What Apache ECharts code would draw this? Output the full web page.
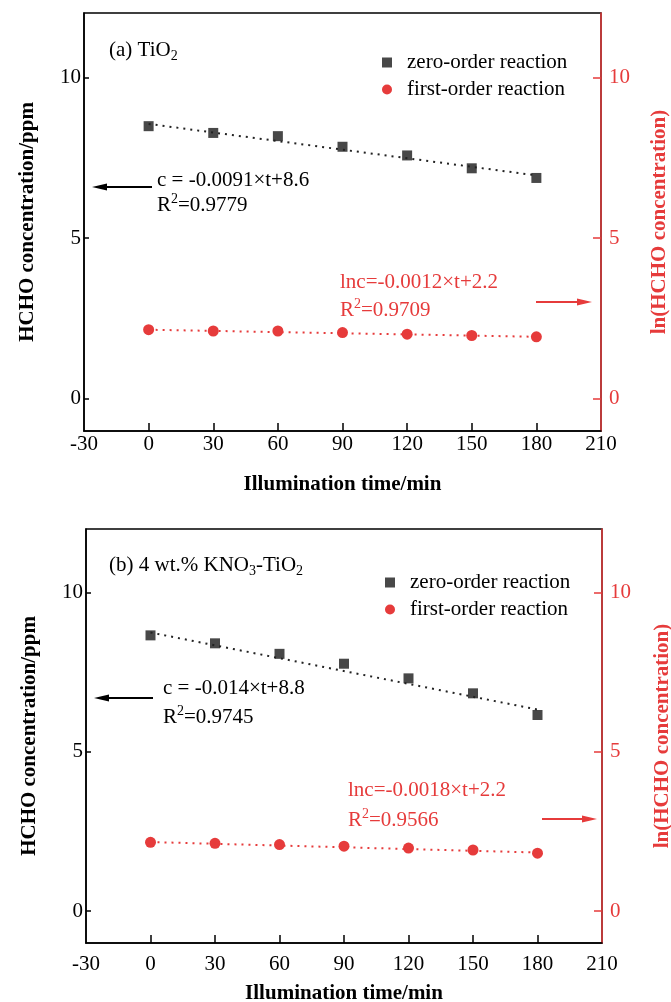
<!DOCTYPE html>
<html>
<head>
<meta charset="utf-8">
<script src="https://cdn.jsdelivr.net/npm/echarts@6/dist/echarts.min.js"></script>
<style>
  html, body { margin: 0; padding: 0; background: #fff; }
  #chart { width: 671px; height: 1002px; }
</style>
</head>
<body>
<div id="chart"></div>
<script>
// illumination time, min
const times = [0, 30, 60, 90, 120, 150, 180]
// panel (a) TiO2
const zeroA = [8.48, 8.27, 8.17, 7.84, 7.57, 7.17, 6.87]
const firstA = [2.15, 2.11, 2.11, 2.06, 2.01, 1.97, 1.93]
// panel (b) 4 wt.% KNO3-TiO2
const zeroB = [8.66, 8.41, 8.08, 7.77, 7.31, 6.84, 6.16]
const firstB = [2.16, 2.13, 2.09, 2.04, 1.98, 1.92, 1.82]
// fitted lines, read at the ends
const fitTimes = [0, 180]
const fitZeroA = [8.55, 6.95]
const fitFirstA = [2.15, 1.93]
const fitZeroB = [8.75, 6.33]
const fitFirstB = [2.17, 1.84]
const yTicks = [0, 5, 10]
const xTicks = [0, 30, 60, 90, 120, 150, 180]

const serif = 'Liberation Serif'
const red = '#e63b3b'
const gray = '#484848'

const pairs = (xs, ys) => xs.map((x, i) => [x, ys[i]])

const grids = [
  { left: 84, top: 13, width: 517, height: 418 },
  { left: 86, top: 529, width: 516, height: 414 }
]

function xAxis(i, labelMargin, nameGap) {
  return {
    type: 'value', gridIndex: i, min: -30, max: 210, interval: 30,
    name: 'Illumination time/min', nameLocation: 'middle', nameGap,
    nameTextStyle: { fontFamily: serif, fontSize: 21, fontWeight: 'bold', color: '#000' },
    axisLine: { onZero: false, lineStyle: { color: '#000', width: 1.5 } },
    axisTick: { inside: true, length: 8, customValues: xTicks, lineStyle: { color: '#000', width: 1.5 } },
    axisLabel: { margin: labelMargin, fontFamily: serif, fontSize: 21, color: '#000' },
    splitLine: { show: false }
  }
}

function yAxis(i, side, nameGap) {
  const c = side === 'left' ? '#000' : red
  return {
    type: 'value', gridIndex: i, position: side, min: -1, max: 12,
    name: side === 'left' ? 'HCHO concentration/ppm' : 'ln(HCHO concentration)',
    nameLocation: 'middle', nameGap, nameRotate: 90,
    nameTextStyle: { fontFamily: serif, fontSize: 21, fontWeight: 'bold', color: c },
    axisLine: { show: true, onZero: false, lineStyle: { color: c, width: 1.5 } },
    axisTick: { show: true, inside: true, length: side === 'left' ? 5 : 8, customValues: yTicks, lineStyle: { color: c, width: 1.5 } },
    axisLabel: { margin: side === 'left' ? 3 : 8, customValues: yTicks, fontFamily: serif, fontSize: 21, color: c },
    splitLine: { show: false }
  }
}

function panelSeries(i, zero, first, fitZero, fitFirst) {
  return [
    { type: 'line', name: 'fit-zero-' + i, xAxisIndex: i, yAxisIndex: 2 * i, data: pairs(fitTimes, fitZero),
      symbol: 'none', silent: true, lineStyle: { color: '#222', width: 2, type: [2, 5] } },
    { type: 'line', name: 'fit-first-' + i, xAxisIndex: i, yAxisIndex: 2 * i + 1, data: pairs(fitTimes, fitFirst),
      symbol: 'none', silent: true, lineStyle: { color: red, width: 2, type: [2, 5] } },
    { type: 'scatter', name: 'zero-order reaction', xAxisIndex: i, yAxisIndex: 2 * i, data: pairs(times, zero),
      symbol: 'rect', symbolSize: 10, itemStyle: { color: gray, opacity: 1 } },
    { type: 'scatter', name: 'first-order reaction', xAxisIndex: i, yAxisIndex: 2 * i + 1, data: pairs(times, first),
      symbol: 'circle', symbolSize: 11, itemStyle: { color: red, opacity: 1 } }
  ]
}

function legend(left, top) {
  return {
    left, top, orient: 'vertical', itemGap: 6, itemWidth: 10, itemHeight: 10,
    data: [{ name: 'zero-order reaction', icon: 'rect' }, { name: 'first-order reaction', icon: 'circle' }],
    itemStyle: { opacity: 1 },
    textStyle: { fontFamily: serif, fontSize: 21, color: '#000', padding: [0, 0, 0, 10] }
  }
}

function rich(color) {
  return {
    n: { fontSize: 21, fontFamily: serif, lineHeight: 26, fill: color },
    sub: { fontSize: 14, fontFamily: serif, lineHeight: 14, verticalAlign: 'bottom', fill: color },
    sup: { fontSize: 14, fontFamily: serif, lineHeight: 14, verticalAlign: 'top', fill: color }
  }
}

function txt(x, y, text, color) {
  return {
    type: 'text', x, y, silent: true,
    style: { text, fill: color, fontFamily: serif, fontSize: 21, align: 'left', verticalAlign: 'middle', rich: rich(color) }
  }
}

function arrow(x1, x2, y, color) {
  const d = Math.sign(x2 - x1)
  return {
    type: 'group', silent: true,
    children: [
      { type: 'line', shape: { x1, y1: y, x2: x2 - d * 10, y2: y }, style: { stroke: color, lineWidth: 2 } },
      { type: 'polygon', shape: { points: [[x2, y], [x2 - d * 15, y - 3.5], [x2 - d * 15, y + 3.5]] }, style: { fill: color } }
    ]
  }
}

const option = {
  animation: false,
  backgroundColor: '#fff',
  grid: grids.map(g => Object.assign({ show: true, borderColor: '#000', borderWidth: 1.5, containLabel: false, outerBoundsMode: 'none' }, g)),
  xAxis: [xAxis(0, 3, 43), xAxis(1, 11, 40)],
  yAxis: [yAxis(0, 'left', 46), yAxis(0, 'right', 48), yAxis(1, 'left', 46), yAxis(1, 'right', 50)],
  legend: [legend(377, 47), legend(380, 567)],
  series: [
    ...panelSeries(0, zeroA, firstA, fitZeroA, fitFirstA),
    ...panelSeries(1, zeroB, firstB, fitZeroB, fitFirstB)
  ],
  graphic: [
    txt(109, 50, '{n|(a) TiO}{sub|2}', '#000'),
    txt(157, 180, '{n|c = -0.0091×t+8.6}', '#000'),
    txt(157, 205, '{n|R}{sup|2}{n|=0.9779}', '#000'),
    arrow(152, 92, 187, '#000'),
    txt(340, 282, '{n|lnc=-0.0012×t+2.2}', red),
    txt(340, 310, '{n|R}{sup|2}{n|=0.9709}', red),
    arrow(536, 592, 302, red),
    txt(109, 565, '{n|(b) 4 wt.% KNO}{sub|3}{n|-TiO}{sub|2}', '#000'),
    txt(163, 688, '{n|c = -0.014×t+8.8}', '#000'),
    txt(163, 717, '{n|R}{sup|2}{n|=0.9745}', '#000'),
    arrow(153, 94, 698, '#000'),
    txt(348, 790, '{n|lnc=-0.0018×t+2.2}', red),
    txt(348, 820, '{n|R}{sup|2}{n|=0.9566}', red),
    arrow(542, 597, 819, red)
  ]
}

const myChart = echarts.init(document.getElementById('chart'))
myChart.setOption(option)
</script>
</body>
</html>
